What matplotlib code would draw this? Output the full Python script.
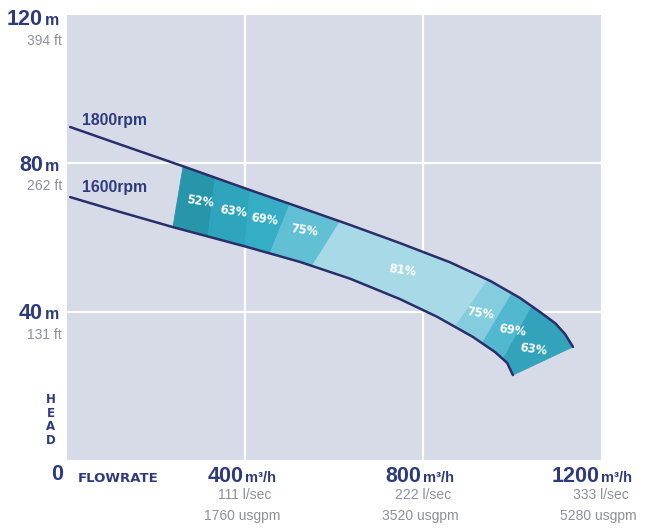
import matplotlib
matplotlib.use("Agg")
import matplotlib.pyplot as plt
import matplotlib.transforms as mtransforms
import numpy as np

# ---------------- data ----------------
# 1800 rpm curve (flow m3/h, head m)
upper_x = [7, 119, 261, 411, 524, 636, 748, 861, 951, 1018, 1063, 1097, 1119, 1137]
upper_y = [89.8, 85.1, 79.2, 72.8, 68.1, 63.4, 58.5, 53.3, 48.3, 43.7, 39.9, 36.9, 34.0, 30.5]
# 1600 rpm curve
lower_x = [7, 119, 238, 400, 524, 636, 748, 832, 912, 962, 989, 1002]
lower_y = [70.9, 66.9, 62.8, 57.6, 53.4, 48.9, 43.4, 38.6, 33.2, 29.1, 26.2, 22.9]

# efficiency zone boundaries (flow on 1800 curve, flow on 1600 curve)
zone_top = [261, 333, 411, 501, 614, 946, 1000, 1045, 1137]
zone_bot = [238, 317, 400, 456, 551, 872, 933, 980, 1002]
zone_labels = ["52%", "63%", "69%", "75%", "81%", "75%", "69%", "63%"]
zone_colors = ["#2896aa", "#2fa5bd", "#35adc5", "#62c0d4", "#a7d9e6",
               "#84cddf", "#52b8cf", "#32a3bb"]
label_x = [299, 373, 443, 533, 753, 930, 1000, 1049]
label_y = [69.6, 67.1, 65.0, 61.8, 51.0, 39.6, 34.8, 29.7]

y_ticks = [40, 80, 120]
y_tick_ft = ["131 ft", "262 ft", "394 ft"]
x_ticks = [400, 800, 1200]
x_tick_lsec = ["111 l/sec", "222 l/sec", "333 l/sec"]
x_tick_gpm = ["1760 usgpm", "3520 usgpm", "5280 usgpm"]
curve_names = ["1800rpm", "1600rpm"]

# ---------------- style ----------------
NAVY = "#2d3a7c"
LINE = "#2a2f6c"
GREY = "#8e9096"
BG = "#d6dbe7"
SANS = ["Liberation Sans", "DejaVu Sans"]

W, H = 650, 532
fig = plt.figure(figsize=(W / 100, H / 100), dpi=100)
L, R, T, B = 67, 601, 15, 460
ax = fig.add_axes([L / W, (H - B) / H, (R - L) / W, (B - T) / H])
ax.set_xlim(0, 1200)
ax.set_ylim(0, 120)
ax.set_facecolor(BG)
for s in ax.spines.values():
    s.set_visible(False)
ax.set_xticks([])
ax.set_yticks([])

for xv in [400, 800]:
    ax.axvline(xv, color="white", lw=1.6, zorder=1)
for yv in [40, 80]:
    ax.axhline(yv, color="white", lw=1.6, zorder=1)


def seg(xs, ys, a, b):
    xs = np.asarray(xs, float)
    ys = np.asarray(ys, float)
    inner = (xs > a) & (xs < b)
    px = np.concatenate([[a], xs[inner], [b]])
    py = np.concatenate([[np.interp(a, xs, ys)], ys[inner], [np.interp(b, xs, ys)]])
    return px, py


for i in range(len(zone_labels)):
    tx, ty = seg(upper_x, upper_y, zone_top[i], zone_top[i + 1])
    bx, by = seg(lower_x, lower_y, zone_bot[i], zone_bot[i + 1])
    polx = np.concatenate([tx, bx[::-1]])
    poly = np.concatenate([ty, by[::-1]])
    ax.fill(polx, poly, color=zone_colors[i], lw=0.6, ec=zone_colors[i], zorder=2)
    ax.text(label_x[i], label_y[i], zone_labels[i], color="white", fontsize=8.3,
            fontweight="bold", family=["DejaVu Sans"], ha="center", va="center",
            rotation=-8, zorder=4)

ax.plot(upper_x, upper_y, color=LINE, lw=1.8, zorder=3, solid_capstyle="round",
        solid_joinstyle="round")
ax.plot(lower_x, lower_y, color=LINE, lw=1.8, zorder=3, solid_capstyle="round",
        solid_joinstyle="round")

# curve names
ax.text(upper_x[0] + 27, upper_y[0] + 1.7, curve_names[0], color=NAVY, fontsize=11.3,
        fontweight="bold", family=SANS, ha="left", va="center")
ax.text(lower_x[0] + 27, lower_y[0] + 2.7, curve_names[1], color=NAVY, fontsize=11.3,
        fontweight="bold", family=SANS, ha="left", va="center")

# ---------------- axis labels ----------------
def px_ax_x(p):
    return (p - L) / (R - L)


def px_ax_y(p):
    return (B - p) / (B - T)


ytr = ax.get_yaxis_transform()
xtr = ax.get_xaxis_transform()
base_off = mtransforms.ScaledTranslation(0, -5.4 / 72, fig.dpi_scale_trans)

for v, ft in zip(y_ticks, y_tick_ft):
    yy = v if v < 120 else 119.3
    ax.text(px_ax_x(43), yy, str(v), transform=ytr + base_off, color=NAVY,
            fontsize=15.5, fontweight="bold", family=SANS, ha="right", va="baseline",
            clip_on=False)
    ax.text(px_ax_x(45), yy, "m", transform=ytr + base_off, color=NAVY,
            fontsize=11.5, fontweight="bold", family=SANS, ha="left", va="baseline",
            clip_on=False)
    ax.text(px_ax_x(62), yy - 6.2, ft, transform=ytr, color=GREY,
            fontsize=10, family=SANS, ha="right", va="center", clip_on=False)

# zero and axis titles
ax.text(px_ax_x(57), px_ax_y(475), "0", transform=ax.transAxes, color=NAVY,
        fontsize=15.5, fontweight="bold", family=SANS, ha="center", va="center",
        clip_on=False)
ax.text(px_ax_x(78), px_ax_y(478), "FLOWRATE", transform=ax.transAxes, color=NAVY,
        fontsize=9.5, fontweight="bold", family=["DejaVu Sans"], ha="left",
        va="center", clip_on=False)
ax.text(px_ax_x(51), px_ax_y(420), "H\nE\nA\nD", transform=ax.transAxes, color=NAVY,
        fontsize=8.5, fontweight="bold", family=["DejaVu Sans"], ha="center",
        va="center", linespacing=1.05, clip_on=False)

for v, ls, gp in zip(x_ticks, x_tick_lsec, x_tick_gpm):
    ax.text(v - 4, px_ax_y(482), str(v), transform=xtr, color=NAVY, fontsize=15.5,
            fontweight="bold", family=SANS, ha="right", va="baseline", clip_on=False)
    ax.text(v - 1, px_ax_y(482), "m³/h", transform=xtr, color=NAVY, fontsize=10.5,
            fontweight="bold", family=SANS, ha="left", va="baseline", clip_on=False)
    ax.text(v, px_ax_y(495), ls, transform=xtr, color=GREY, fontsize=10,
            family=SANS, ha="center", va="center", clip_on=False)
    ax.text(v - 6, px_ax_y(516), gp, transform=xtr, color=GREY, fontsize=10,
            family=SANS, ha="center", va="center", clip_on=False)

fig.savefig("out.png", dpi=100, facecolor="white")
